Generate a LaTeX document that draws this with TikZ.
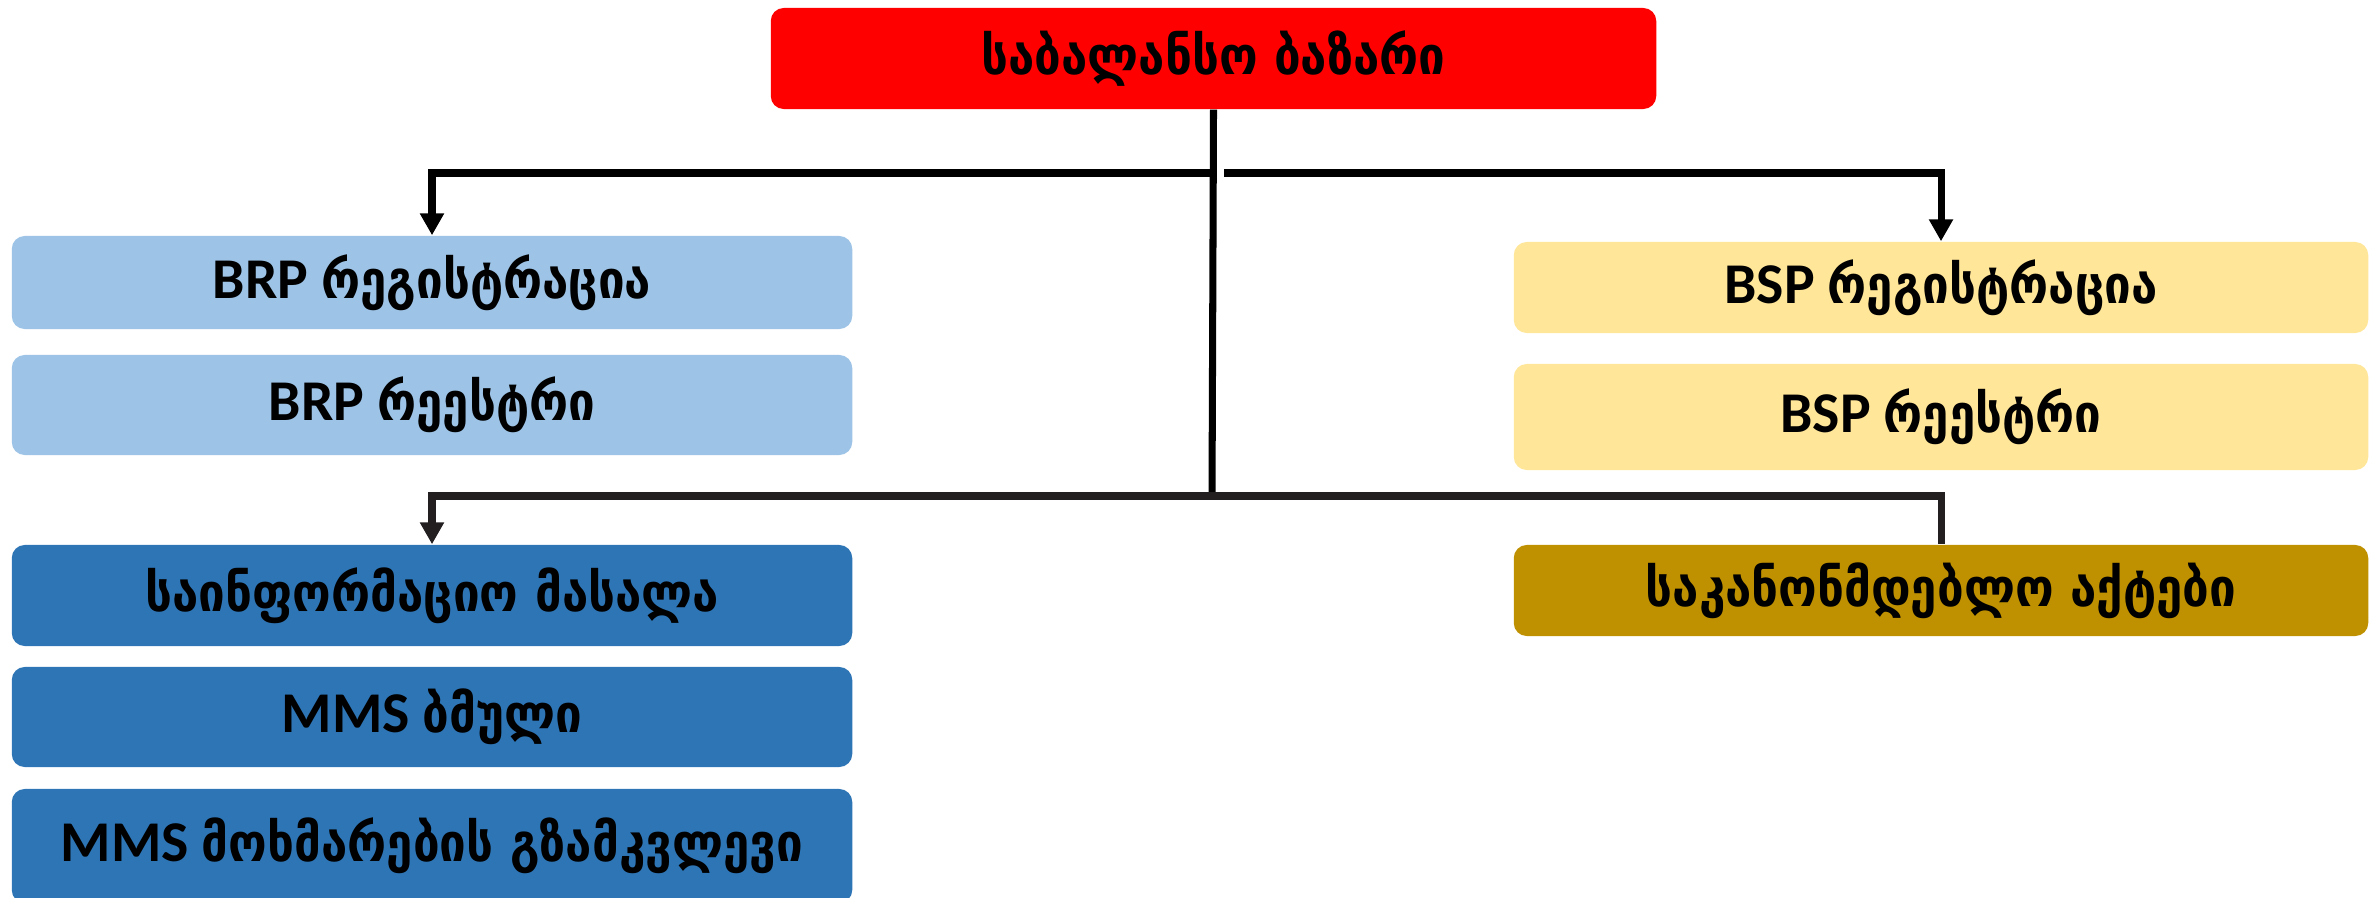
\documentclass[tikz,border=0pt]{standalone}
\usepackage{fontspec}
\setmainfont{Carlito}
\newfontfamily\geofont[Scale=0.915]{DejaVu Sans Condensed}
\usepackage{tikz}
\usetikzlibrary{arrows.meta}
\definecolor{top_red}{HTML}{FF0000}
\definecolor{light_blue}{HTML}{9DC3E6}
\definecolor{dark_blue}{HTML}{2E75B6}
\definecolor{light_yellow}{HTML}{FFE699}
\definecolor{dark_gold}{HTML}{BF9000}
\definecolor{line_dark}{HTML}{231F20}

\begin{document}
\begin{tikzpicture}[x=0.01cm,y=-0.01cm,
    box/.style={rounded corners=0.13cm, inner sep=0pt, align=center,
        font=\fontsize{16.4}{19}\selectfont\bfseries},
    leftbox/.style={box, minimum width=8.40cm},
    rightbox/.style={box, minimum width=8.54cm},
    link/.style={line width=2pt, black},
    linkdark/.style={line width=2pt, line_dark},
    tip/.style={-{Triangle[width=0.23cm,length=0.22cm]}}]

    \useasboundingbox (0,0) rectangle (2376,897);

    % Boîte du haut
    \node[box, fill=top_red, minimum width=8.85cm, minimum height=1.01cm] (market) at (1213.5,58.5) {\geofont საბალანსო ბაზარი};

    % Colonne de gauche
    \node[leftbox, fill=light_blue, minimum height=0.93cm] (brpreg) at (432,282.5) {BRP {\geofont რეგისტრაცია}};
    \node[leftbox, fill=light_blue, minimum height=1.00cm] (brplist) at (432,405) {BRP {\geofont რეესტრი}};
    \node[leftbox, fill=dark_blue, minimum height=1.01cm] (info) at (432,595.5) {\geofont საინფორმაციო მასალა};
    \node[leftbox, fill=dark_blue, minimum height=1.00cm] (mmslink) at (432,717) {MMS {\geofont ბმული}};
    \node[leftbox, fill=dark_blue, minimum height=1.14cm] (mmsguide) at (432,846) {MMS {\geofont მოხმარების გზამკვლევი}};

    % Colonne de droite
    \node[rightbox, fill=light_yellow, minimum height=0.91cm] (bspreg) at (1941,287.5) {BSP {\geofont რეგისტრაცია}};
    \node[rightbox, fill=light_yellow, minimum height=1.06cm] (bsplist) at (1941,417) {BSP {\geofont რეესტრი}};
    \node[rightbox, fill=dark_gold, minimum height=0.91cm] (legal) at (1941,590.5) {\geofont საკანონმდებლო აქტები};

    % Points de jonction
    \coordinate (upjoin) at (1213,173);
    \coordinate (upright) at (1224,173);
    \coordinate (lowjoin) at (1212,496);

    % Liaisons
    \draw[link] (market.south) -- (lowjoin);
    \draw[link, tip] (upjoin) -| (brpreg.north);
    \draw[link, tip] (upright) -| (bspreg.north);
    \draw[linkdark, tip] (lowjoin) -| (info.north);
    \draw[linkdark] (lowjoin) -| (legal.north);
\end{tikzpicture}
\end{document}
